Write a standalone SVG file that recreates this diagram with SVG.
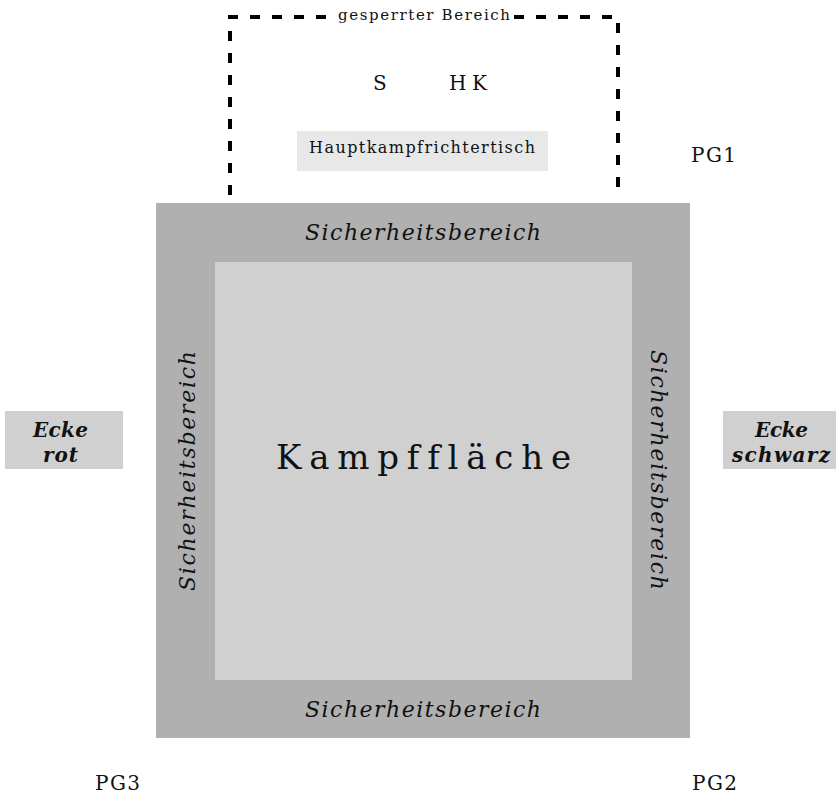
<svg xmlns="http://www.w3.org/2000/svg" width="837" height="798" viewBox="0 0 837 798">
<style>
text{font-family:"DejaVu Serif","Liberation Serif",serif;fill:#111;font-variant-ligatures:none;}
.it{font-style:italic;font-size:22px;}
.bi{font-style:italic;font-weight:bold;font-size:20px;text-anchor:middle;}
.pg{font-size:20px;}
</style>
<rect width="837" height="798" fill="#fff"/>
<g id="sicherheitsbereich">
<rect x="156" y="203" width="534" height="535" fill="#b0b0b0"/>
<text class="it" x="305" y="240" textLength="236" lengthAdjust="spacing">Sicherheitsbereich</text>
<text class="it" x="305" y="717" textLength="236" lengthAdjust="spacing">Sicherheitsbereich</text>
<text class="it" transform="translate(195,591) rotate(-90)" x="0" y="0" textLength="240" lengthAdjust="spacing">Sicherheitsbereich</text>
<text class="it" transform="translate(651,350) rotate(90)" x="0" y="0" textLength="240" lengthAdjust="spacing">Sicherheitsbereich</text>
</g>
<g id="kampfflaeche">
<rect x="215" y="262" width="417" height="418" fill="#d0d0d0"/>
<text x="276" y="469" font-size="34" textLength="295" lengthAdjust="spacing">Kampffläche</text>
</g>
<g id="gesperrter-bereich">
<path d="M230,195 V17 H618 V195" fill="none" stroke="#000" stroke-width="4" stroke-dasharray="10,12"/>
<rect x="334" y="6" width="180" height="20" fill="#fff"/>
<text x="338" y="20" font-size="15" textLength="172" lengthAdjust="spacing">gesperrter Bereich</text>
</g>
<g id="s"><text x="373" y="90" font-size="20">S</text></g>
<g id="hk"><text x="449" y="90" font-size="20" textLength="38" lengthAdjust="spacing">HK</text></g>
<g id="hauptkampfrichtertisch">
<rect x="297" y="131" width="251" height="40" fill="#e8e8e8"/>
<text x="309" y="153" font-size="16" textLength="226" lengthAdjust="spacing">Hauptkampfrichtertisch</text>
</g>
<g id="ecke-rot">
<rect x="5" y="411" width="118" height="58" fill="#d0d0d0"/>
<text class="bi" x="60.5" y="437" textLength="55" lengthAdjust="spacing">Ecke</text>
<text class="bi" x="60.5" y="462" textLength="35" lengthAdjust="spacing">rot</text>
</g>
<g id="ecke-schwarz">
<rect x="723" y="411" width="113" height="58" fill="#d0d0d0"/>
<text class="bi" x="781.5" y="437" textLength="53" lengthAdjust="spacing">Ecke</text>
<text class="bi" x="781" y="462" textLength="98" lengthAdjust="spacing">schwarz</text>
</g>
<g id="pg1"><text class="pg" x="691" y="162" textLength="45" lengthAdjust="spacing">PG1</text></g>
<g id="pg3"><text class="pg" x="95" y="790" textLength="45" lengthAdjust="spacing">PG3</text></g>
<g id="pg2"><text class="pg" x="692" y="790" textLength="45" lengthAdjust="spacing">PG2</text></g>
<g id="connectors"></g>
</svg>
